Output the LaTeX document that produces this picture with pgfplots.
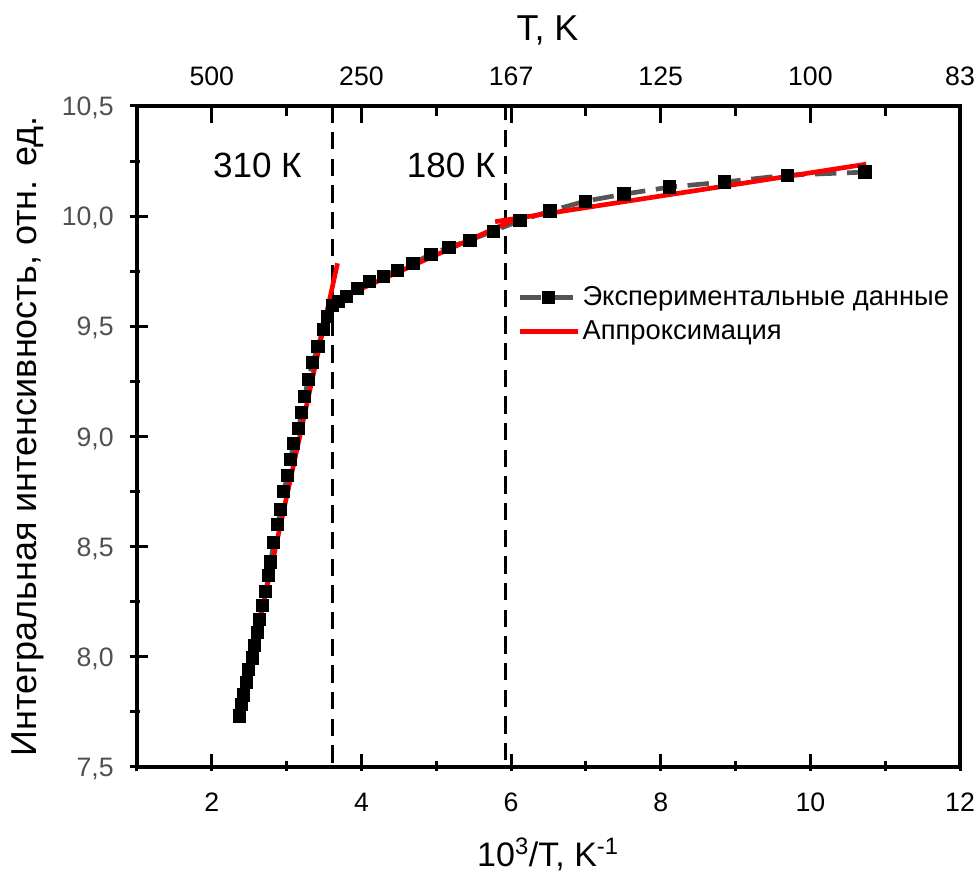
\documentclass[border=0pt]{standalone}
\usepackage{fontspec}
\setmainfont{Liberation Sans}
\usepackage{pgfplots}
\pgfplotsset{compat=1.18}

\definecolor{fitred}{RGB}{255,0,0}
\definecolor{datagray}{RGB}{85,85,85}
\definecolor{labelgray}{RGB}{80,80,80}

\newcommand{\ticksize}{\fontsize{20pt}{24pt}\selectfont}
\newcommand{\labelsize}{\fontsize{27pt}{32pt}\selectfont}

\pgfplotsset{
  datalegend/.style={legend image code/.code={\draw[##1, mark repeat=2, mark phase=2]
    plot coordinates {(0pt,0pt) (21.75pt,0pt) (43.5pt,0pt)};}},
  fitlegend/.style={legend image code/.code={\draw[##1] (0pt,0pt) -- (43.5pt,0pt);}},
}

\begin{document}
\begin{tikzpicture}
% temperature scale on top: 1000/x
\begin{axis}[
  scale only axis, width=617.25pt, height=495.75pt,
  at={(0pt,0pt)}, anchor=south west,
  xmin=1, xmax=12, ymin=0, ymax=1,
  axis x line*=top, axis y line=none,
  axis line style={line width=3pt, -},
  xtick={2,4,...,12}, xticklabels={500,250,167,125,100,83},
  minor xtick={3,5,...,11},
  tick align=inside,
  major tick length=13pt, minor tick length=7.5pt,
  tick style={black, line width=2.25pt},
  xticklabel style={font=\ticksize, anchor=base, inner sep=0pt, yshift=15pt},
  xlabel={T, K},
  xlabel style={font=\labelsize, at={(axis description cs:0.4988,1.0998)}, anchor=base, inner sep=0pt},
]
\end{axis}
\begin{axis}[
  scale only axis, width=617.25pt, height=495.75pt,
  at={(0pt,0pt)}, anchor=south west,
  xmin=1, xmax=12, ymin=7.5, ymax=10.5,
  axis line style={line width=3pt},
  xtick={2,4,...,12}, minor xtick={1,3,...,11},
  ytick={7.5,8,...,10.5}, minor ytick={7.75,8.25,...,10.25},
  xtick pos=bottom, ytick pos=left,
  tick align=inside,
  major tick length=13pt, minor tick length=7.5pt,
  tick style={black, line width=2.25pt},
  every major x tick/.append style={yshift=-3pt},
  every minor x tick/.append style={yshift=-3pt},
  every major y tick/.append style={xshift=-5pt},
  every minor y tick/.append style={xshift=-5pt},
  /pgf/number format/assume math mode=true,
  xticklabel style={font=\ticksize, anchor=base, inner sep=0pt, yshift=-33.75pt},
  yticklabel style={font=\ticksize, text=labelgray, anchor=base east, inner sep=0pt,
    xshift=-17.25pt, yshift=-7.2pt,
    /pgf/number format/.cd, fixed, fixed zerofill, precision=1, use comma, assume math mode=true},
  xlabel={10\textsuperscript{3}/T, K\textsuperscript{-1}},
  xlabel style={font=\fontsize{25.5pt}{30pt}\selectfont, at={(axis description cs:0.4994,-0.151)}, anchor=base, inner sep=0pt},
  ylabel={Интегральная интенсивность, отн. ед.},
  ylabel style={font=\labelsize, at={(axis description cs:-0.1324,0.5)}, anchor=center, inner sep=0pt},
  legend style={draw=none, fill=none, font=\fontsize{20.5pt}{24pt}\selectfont,
    at={(axis description cs:0.4617,0.731)}, anchor=north west,
    row sep=6pt, inner sep=0pt},
  legend cell align=left,
]
% transition temperatures
\addplot[black, line width=2.25pt, dash pattern=on 13pt off 7pt, forget plot]
  coordinates {(3.61,7.52) (3.61,10.5)};
\addplot[black, line width=2.25pt, dash pattern=on 13pt off 7pt, forget plot]
  coordinates {(5.93,7.53) (5.93,10.5)};

% measured integral intensity vs 10^3/T
\addplot[datagray, line width=3.5pt, dash pattern=on 16pt off 8pt,
  mark=square*, mark size=4.6pt, mark options={solid, fill=black, draw=black, line width=0pt},
  datalegend]
  table {
x      y
2.373  7.732
2.400  7.782
2.427  7.827
2.467  7.882
2.493  7.941
2.547  7.995
2.573  8.050
2.613  8.109
2.640  8.168
2.680  8.232
2.720  8.295
2.760  8.368
2.787  8.430
2.827  8.518
2.880  8.600
2.920  8.668
2.960  8.750
3.013  8.823
3.053  8.895
3.093  8.968
3.160  9.036
3.200  9.109
3.240  9.180
3.290  9.260
3.350  9.336
3.420  9.410
3.490  9.486
3.550  9.545
3.610  9.595
3.690  9.612
3.800  9.636
3.950  9.672
4.107  9.703
4.290  9.727
4.480  9.755
4.690  9.786
4.930  9.827
5.170  9.859
5.450  9.891
5.760  9.932
6.120  9.980
6.520  10.023
6.990  10.068
7.510  10.100
8.120  10.132
8.850  10.155
9.690  10.186
10.730 10.200
};
\addlegendentry{Экспериментальные данные}

% linear fits
\addplot[fitred, line width=3.5pt, fitlegend]
  coordinates {(2.373,7.75) (3.68,9.786)};
\addlegendentry{Аппроксимация}
\addplot[fitred, line width=3.5pt, forget plot]
  coordinates {(3.653,9.618) (6.05,9.985)};
\addplot[fitred, line width=3.5pt, forget plot]
  coordinates {(5.787,9.975) (10.747,10.236)};

\node[font=\fontsize{26.3pt}{31pt}\selectfont, anchor=base] at (axis cs:2.609,10.174) {310 К};
\node[font=\fontsize{26.3pt}{31pt}\selectfont, anchor=base] at (axis cs:5.199,10.174) {180 К};
\end{axis}
\pgfresetboundingbox
\useasboundingbox (-102.75pt,-80.25pt) rectangle (631.5pt,575.25pt);
\end{tikzpicture}
\end{document}
